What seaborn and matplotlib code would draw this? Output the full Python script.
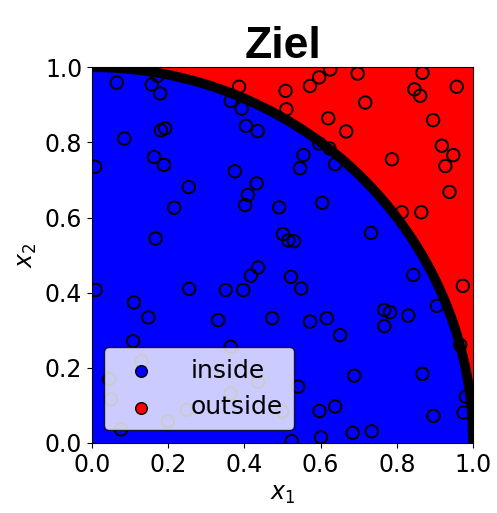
import numpy as np
import pandas as pd
import matplotlib
matplotlib.use("Agg")
import matplotlib.pyplot as plt
import seaborn as sns

# sample points
x1 = [0.065, 0.157, 0.172, 0.179, 0.386, 0.364, 0.393, 0.508, 0.510, 0.404,
      0.435, 0.192, 0.181, 0.085, 0.008, 0.163, 0.189, 0.375, 0.432, 0.254,
      0.409, 0.402, 0.491, 0.216, 0.167, 0.501, 0.515, 0.625, 0.596, 0.572,
      0.697, 0.867, 0.957, 0.846, 0.861, 0.717, 0.620, 0.895, 0.667, 0.596,
      0.623, 0.555, 0.638, 0.546, 0.787, 0.918, 0.948, 0.927, 0.938, 0.604,
      0.813, 0.864, 0.732, 0.530, 0.010, 0.255, 0.351, 0.397, 0.417, 0.436,
      0.110, 0.148, 0.331, 0.473, 0.108, 0.364, 0.130, 0.045, 0.050, 0.076,
      0.199, 0.249, 0.364, 0.436, 0.499, 0.522, 0.549, 0.843, 0.973, 0.905,
      0.767, 0.782, 0.830, 0.572, 0.616, 0.767, 0.651, 0.966, 0.688, 0.867,
      0.541, 0.981, 0.638, 0.597, 0.896, 0.975, 0.684, 0.734, 0.601, 0.524]
x2 = [0.959, 0.954, 0.977, 0.930, 0.948, 0.910, 0.890, 0.937, 0.888, 0.844,
      0.830, 0.837, 0.832, 0.810, 0.735, 0.761, 0.740, 0.723, 0.691, 0.681,
      0.660, 0.633, 0.627, 0.626, 0.544, 0.556, 0.539, 0.994, 0.973, 0.950,
      0.983, 0.985, 0.948, 0.941, 0.924, 0.906, 0.864, 0.859, 0.829, 0.797,
      0.784, 0.766, 0.742, 0.731, 0.755, 0.791, 0.766, 0.737, 0.668, 0.639,
      0.614, 0.614, 0.559, 0.537, 0.407, 0.410, 0.407, 0.407, 0.445, 0.467,
      0.374, 0.334, 0.327, 0.332, 0.271, 0.256, 0.218, 0.170, 0.116, 0.036,
      0.057, 0.088, 0.132, 0.163, 0.084, 0.442, 0.411, 0.447, 0.418, 0.365,
      0.354, 0.348, 0.339, 0.323, 0.332, 0.311, 0.287, 0.261, 0.179, 0.184,
      0.150, 0.123, 0.097, 0.085, 0.072, 0.081, 0.027, 0.031, 0.015, 0.005]

df = pd.DataFrame({"x1": x1, "x2": x2})

sns.set_style("ticks", rc={"axes.edgecolor": "black", "text.color": "black",
                           "axes.labelcolor": "black", "xtick.color": "black",
                           "ytick.color": "black"})
plt.rcParams["font.family"] = ["DejaVu Sans"]
plt.rcParams["font.size"] = 17

fig = plt.figure(figsize=(4.97, 5.13), dpi=100)
ax = fig.add_axes([0.185, 0.1365, 0.767, 0.7325])

# regions: red outside, blue inside the unit circle
xs = np.linspace(0, 1, 400)
ax.set_facecolor("red")
ax.fill_between(xs, 0, np.sqrt(1 - xs**2), color="blue", lw=0, zorder=0)
ax.plot(xs, np.sqrt(1 - xs**2), color="black", lw=7, zorder=1)

sns.scatterplot(data=df, x="x1", y="x2", ax=ax, marker="o", s=80,
                facecolor="none", edgecolor="black", linewidth=1.4, zorder=2)

# legend handles
ax.scatter([], [], c="blue", edgecolors="black", s=70, label="inside")
ax.scatter([], [], c="red", edgecolors="black", s=70, label="outside")
leg = ax.legend(loc="lower left", fontsize=18, framealpha=0.8,
                edgecolor="black", handletextpad=1.0, borderpad=0.45)

ax.set_xlim(0, 1)
ax.set_ylim(0, 1)
ax.set_xticks([0, 0.2, 0.4, 0.6, 0.8, 1.0])
ax.set_yticks([0, 0.2, 0.4, 0.6, 0.8, 1.0])
ax.tick_params(labelsize=17)
ax.set_xlabel("$x_1$", fontsize=17)
ax.set_ylabel("$x_2$", fontsize=17)
ax.set_title("Ziel", fontsize=32, fontweight="bold", family="Liberation Sans")

fig.savefig("out.png", dpi=100)
